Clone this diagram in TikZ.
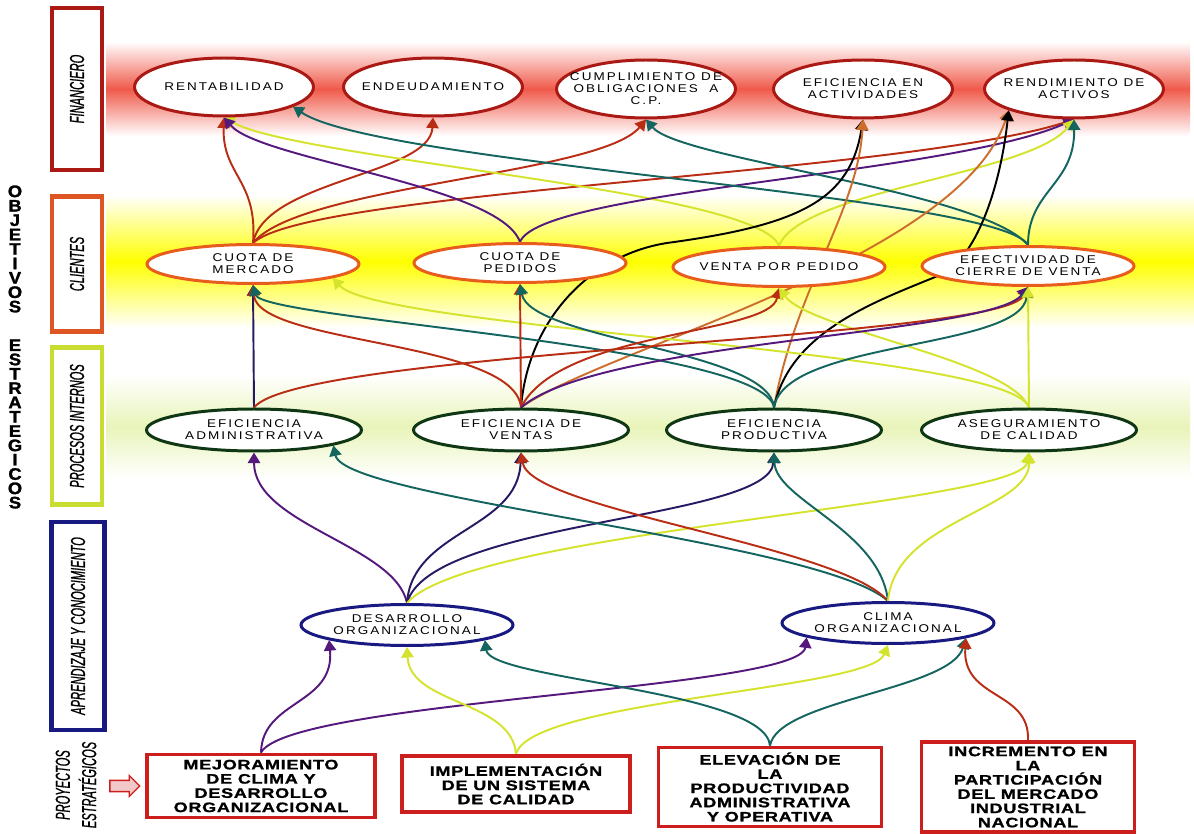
\documentclass[tikz,border=0pt]{standalone}
\usepackage{fontspec}
\setmainfont{Liberation Sans}
\newfontfamily\ellfont[FakeStretch=1.2,LetterSpace=18]{Liberation Sans}
\newfontfamily\boxfont[FakeStretch=1.32,LetterSpace=5,FakeBold=1.2]{Liberation Sans}
\newfontfamily\lvlfont[FakeStretch=0.55,FakeBold=0.8]{Liberation Sans}
\newfontfamily\stackfont[FakeStretch=1.1,FakeBold=1.5]{Liberation Sans}
\usetikzlibrary{arrows.meta, shapes.geometric, shapes.arrows}
\definecolor{finred}{RGB}{170,25,20}
\definecolor{cliorange}{RGB}{232,92,30}
\definecolor{progreen}{RGB}{15,55,20}
\definecolor{aprnavy}{RGB}{25,25,130}
\definecolor{projred}{RGB}{205,30,30}
\definecolor{lvlorange}{RGB}{220,85,35}
\definecolor{lvlyellow}{RGB}{200,220,50}
\definecolor{lnpurple}{RGB}{85,25,125}
\definecolor{lnred}{RGB}{185,45,20}
\definecolor{lnyellow}{RGB}{212,228,45}
\definecolor{lnteal}{RGB}{20,100,95}
\definecolor{lnorange}{RGB}{205,110,45}
\definecolor{lnnavy}{RGB}{40,25,100}
\definecolor{bandred}{RGB}{240,90,75}
\definecolor{bandgreen}{RGB}{232,244,185}
\pgfdeclarelayer{bands}
\pgfdeclarelayer{links}
\pgfsetlayers{bands,links,main}

\begin{document}
\begin{tikzpicture}[
    x=0.02cm, y=-0.02cm,
    obj/.style={ellipse, fill=white, line width=1.7pt, inner xsep=-12pt, inner ysep=-4pt, align=center, font=\ellfont\fontsize{6.4}{6.8}\selectfont},
    fin/.style={obj, draw=finred, minimum width=3.58cm, minimum height=1.16cm},
    cli/.style={obj, draw=cliorange, minimum width=4.24cm, minimum height=0.78cm},
    pro/.style={obj, draw=progreen, minimum width=4.3cm, minimum height=0.84cm},
    apr/.style={obj, draw=aprnavy, minimum width=4.24cm, minimum height=0.82cm},
    proj/.style={rectangle, draw=projred, line width=2.2pt, fill=white, inner sep=0pt, align=center, font=\boxfont\bfseries\fontsize{7.8}{8.1}\selectfont},
    lvl/.style={rectangle, line width=2.4pt, rotate=90, inner sep=0pt, font=\lvlfont\itshape\fontsize{11.5}{13}\selectfont},
    vletter/.style={inner sep=0pt, align=center, font=\stackfont\bfseries\fontsize{9.5}{8.2}\selectfont},
    ln/.style={line width=1.1pt, -{Triangle[length=6pt,width=7pt]}}
]
\useasboundingbox (0,0) rectangle (1194,834);

% Financiero
\node[fin] (rent) at (224,87) {RENTABILIDAD};
\node[fin] (endeu) at (433,87) {ENDEUDAMIENTO};
\node[fin] (cumpl) at (646,89) {CUMPLIMIENTO DE\\OBLIGACIONES\ \ A\\C.P.};
\node[fin] (efact) at (863,89) {EFICIENCIA EN\\ACTIVIDADES};
\node[fin] (rendim) at (1074,89) {RENDIMIENTO DE\\ACTIVOS};

% Clientes
\node[cli] (cmerc) at (253,264) {CUOTA DE\\MERCADO};
\node[cli] (cped) at (520,263) {CUOTA DE\\PEDIDOS};
\node[cli] (vped) at (779,267) {VENTA POR PEDIDO};
\node[cli] (efcie) at (1028,266) {EFECTIVIDAD DE\\CIERRE DE VENTA};

% Procesos internos
\node[pro] (eadm) at (254,430) {EFICIENCIA\\ADMINISTRATIVA};
\node[pro] (even) at (521,430) {EFICIENCIA DE\\VENTAS};
\node[pro] (eprod) at (774,430) {EFICIENCIA\\PRODUCTIVA};
\node[pro] (aseg) at (1029,430) {ASEGURAMIENTO\\DE CALIDAD};

% Aprendizaje
\node[apr] (desorg) at (407,625) {DESARROLLO\\ORGANIZACIONAL};
\node[apr] (clima) at (888,623) {CLIMA\\ORGANIZACIONAL};

% Proyectos
\node[proj, minimum width=4.56cm, minimum height=1.26cm] (mejor) at (261,786) {MEJORAMIENTO\\DE CLIMA Y\\DESARROLLO\\ORGANIZACIONAL};
\node[proj, minimum width=4.56cm, minimum height=1.12cm] (impl) at (516,784) {IMPLEMENTACIÓN\\DE UN SISTEMA\\DE CALIDAD};
\node[proj, minimum width=4.46cm, minimum height=1.58cm] (elev) at (770,787) {ELEVACIÓN DE\\LA\\PRODUCTIVIDAD\\ADMINISTRATIVA\\Y OPERATIVA};
\node[proj, minimum width=4.26cm, minimum height=1.8cm] (incr) at (1028,787) {INCREMENTO EN\\LA\\PARTICIPACIÓN\\DEL MERCADO\\INDUSTRIAL\\NACIONAL};

% Perspectivas
\node[lvl, draw=finred, minimum width=3.24cm, minimum height=1.0cm] (lfin) at (77,89) {FINANCIERO};
\node[lvl, draw=lvlorange, minimum width=2.7cm, minimum height=1.0cm] (lcli) at (77,264) {CLIENTES};
\node[lvl, draw=lvlyellow, minimum width=3.14cm, minimum height=1.0cm] (lpro) at (77,426) {PROCESOS INTERNOS};
\node[lvl, draw=aprnavy, minimum width=4.16cm, minimum height=1.06cm] (lapr) at (78,626) {APRENDIZAJE Y CONOCIMIENTO};
\node[rotate=90, align=center, font=\lvlfont\itshape\fontsize{11.5}{15}\selectfont] (proy) at (76,785) {PROYECTOS\\ESTRATÉGICOS};
\node[single arrow, draw=projred, fill=projred!25, line width=0.8pt, minimum height=17pt, inner sep=2.8pt, single arrow head extend=2.8pt] (parrow) at (122,786) {};

% Objetivos estrategicos
\node[vletter] (objv) at (15,249) {O\\B\\J\\E\\T\\I\\V\\O\\S};
\node[vletter, font=\stackfont\bfseries\fontsize{9.5}{8.15}\selectfont] (estv) at (15,424) {E\\S\\T\\R\\A\\T\\E\\G\\I\\C\\O\\S};

% Bands
\begin{pgfonlayer}{bands}
\fill[white] (0,0) rectangle (1194,834);
\shade[top color=white, bottom color=white, middle color=bandred] (106,42) rectangle (1190,136);
\shade[top color=white, bottom color=white, middle color=yellow] (106,195) rectangle (1194,328);
\shade[top color=white, bottom color=white, middle color=bandgreen] (106,375) rectangle (1190,478);
\end{pgfonlayer}

\begin{pgfonlayer}{links}
% Clientes -> Financiero
\draw[ln, lnred] (cmerc.north) .. controls (258,180) and (222,175) .. (rent.south);
\draw[ln, lnred] (cmerc.north) .. controls (265,180) and (430,175) .. (endeu.south);
\draw[ln, lnred] (cmerc.north) .. controls (300,185) and (600,175) .. (cumpl.south);
\draw[ln, lnred] (cmerc.north) .. controls (310,190) and (900,175) .. (rendim.south);
\draw[ln, lnyellow] (vped.north) .. controls (760,190) and (300,160) .. (rent.south);
\draw[ln, lnpurple] (cped.north) .. controls (500,185) and (260,160) .. (rent.south);
\draw[ln, lnpurple] (cped.north) .. controls (540,190) and (950,175) .. (rendim.south);
\draw[ln, lnyellow] (vped.north) .. controls (800,190) and (1030,175) .. (rendim.south);
\draw[ln, lnteal] (efcie.north) .. controls (1000,195) and (380,165) .. (rent.344);
\draw[ln, lnteal] (efcie.north) .. controls (980,190) and (680,160) .. (cumpl.south);
\draw[ln, lnteal] (efcie.north) .. controls (1028,190) and (1075,185) .. (rendim.south);

% Procesos -> Financiero
\draw[ln, black] (even.north) .. controls (528,320) and (590,255) .. (667,243) .. controls (800,225) and (850,200) .. (efact.south);
\draw[ln, lnorange] (eprod.north) .. controls (795,290) and (858,210) .. (efact.south);
\draw[ln, lnorange] (even.north) .. controls (600,350) and (960,260) .. (rendim.198);
\draw[ln, black] (eprod.north) .. controls (790,330) and (880,300) .. (940,275) .. controls (975,260) and (1000,190) .. (rendim.198);

% Procesos -> Clientes
\draw[ln, lnnavy] (eadm.north) -- (cmerc.south);
\draw[ln, lnred] (even.north) .. controls (515,340) and (258,345) .. (cmerc.south);
\draw[ln, lnteal] (eprod.north) .. controls (765,345) and (262,320) .. (cmerc.south);
\draw[ln, lnyellow] (aseg.north) .. controls (1010,350) and (380,330) .. (cmerc.350);
\draw[ln, lnred] (even.north) -- (cped.south);
\draw[ln, lnteal] (eprod.north) .. controls (770,350) and (530,340) .. (cped.south);
\draw[ln, lnred] (even.north) .. controls (560,330) and (770,335) .. (vped.south);
\draw[ln, lnyellow] (aseg.north) .. controls (1010,360) and (810,330) .. (vped.south);
\draw[ln, lnred] (eadm.north) .. controls (300,350) and (1000,340) .. (efcie.south);
\draw[ln, lnpurple] (even.north) .. controls (600,340) and (990,335) .. (efcie.south);
\draw[ln, lnteal] (eprod.north) .. controls (785,340) and (1020,350) .. (efcie.south);
\draw[ln, lnyellow] (aseg.north) -- (efcie.south);

% Aprendizaje -> Procesos
\draw[ln, lnpurple] (desorg.north) .. controls (395,545) and (254,525) .. (eadm.south);
\draw[ln, lnnavy] (desorg.north) .. controls (412,530) and (518,530) .. (even.south);
\draw[ln, lnnavy] (desorg.north) .. controls (430,520) and (770,520) .. (eprod.south);
\draw[ln, lnyellow] (desorg.north) .. controls (470,530) and (1020,505) .. (aseg.south);
\draw[ln, lnteal] (clima.north) .. controls (820,540) and (345,500) .. (eadm.349);
\draw[ln, lnred] (clima.north) .. controls (840,545) and (530,510) .. (even.south);
\draw[ln, lnteal] (clima.north) .. controls (880,530) and (776,500) .. (eprod.south);
\draw[ln, lnyellow] (clima.north) .. controls (895,520) and (1030,510) .. (aseg.south);

% Proyectos -> Aprendizaje
\draw[ln, lnpurple] (mejor.north) .. controls (262,700) and (335,705) .. (desorg.191);
\draw[ln, lnpurple] (mejor.north) .. controls (290,700) and (800,690) .. (clima.190);
\draw[ln, lnyellow] (impl.north) .. controls (512,700) and (410,705) .. (desorg.south);
\draw[ln, lnyellow] (impl.north) .. controls (530,700) and (870,690) .. (clima.south);
\draw[ln, lnteal] (elev.north) .. controls (765,690) and (490,680) .. (desorg.349);
\draw[ln, lnteal] (elev.north) .. controls (778,700) and (950,690) .. (clima.349);
\draw[ln, lnred] (incr.north) .. controls (1030,690) and (962,700) .. (clima.349);
\end{pgfonlayer}

\end{tikzpicture}
\end{document}
